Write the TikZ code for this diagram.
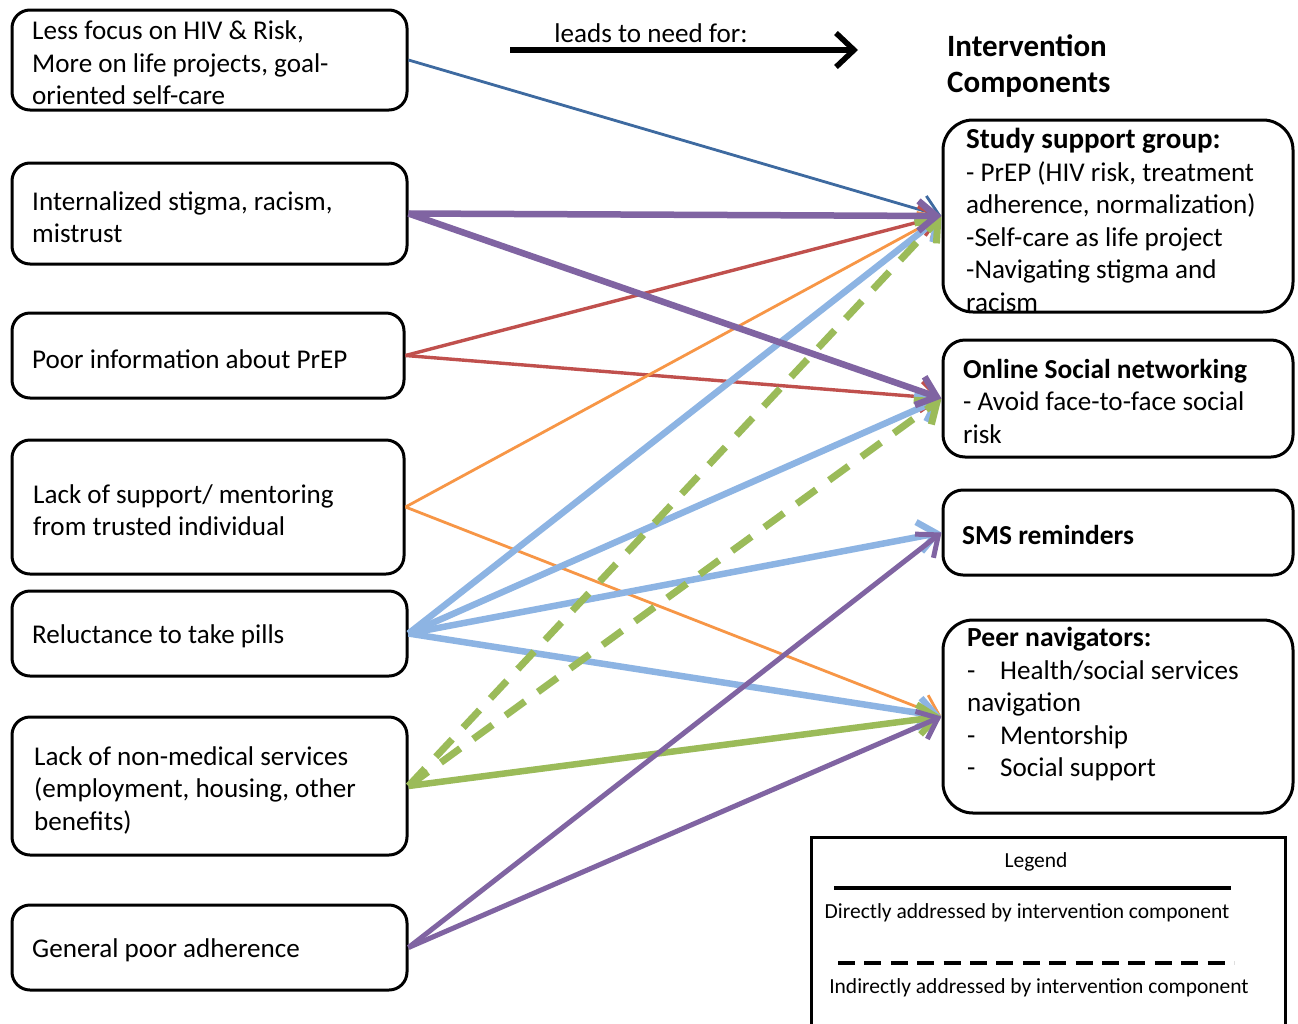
\documentclass[tikz,border=0pt]{standalone}
\usepackage{fontspec}
\setmainfont{Carlito}
\usetikzlibrary{arrows.meta}
\definecolor{cdblue}{RGB}{62,106,160}
\definecolor{cpurple}{RGB}{128,100,162}
\definecolor{cred}{RGB}{192,80,77}
\definecolor{corange}{RGB}{247,150,70}
\definecolor{clblue}{RGB}{141,180,227}
\definecolor{cgreen}{RGB}{155,187,89}
\begin{document}
\begin{tikzpicture}[x=1pt,y=-1pt,
  box/.style={draw=black, line width=3pt, rounded corners=18pt, inner sep=0pt},
  rbox/.style={box, rounded corners=30pt},
  txt/.style={anchor=west, align=left, inner sep=0pt, font=\fontsize{27.1}{32.5}\selectfont},
  legtxt/.style={inner sep=0pt, font=\fontsize{21.5}{26}\selectfont},
  conn/.style={-{Straight Barb[length=18pt,width=30pt]}},
  thin/.style={line width=2.8pt},
  mid/.style={line width=3.4pt},
  thick/.style={line width=6.5pt},
  indirect/.style={line width=7pt, dash pattern=on 24pt off 16pt}
]
\useasboundingbox (0,0) rectangle (1298,1023);
\fill[white] (0,0) rectangle (1298,1023);

% header
\node[inner sep=0pt, font=\fontsize{27.1}{32.5}\selectfont] (lead) at (651,33) {leads to need for:};
\coordinate (hs) at (510,50);
\coordinate (he) at (858,50);
\draw[line width=5.5pt, -{Straight Barb[length=18pt,width=34pt]}] (hs) -- (he);
\node[txt, font=\fontsize{31}{36}\selectfont\bfseries] (title) at (947,66) {Intervention\\Components};

% left boxes
\node[box, minimum width=395pt, minimum height=100pt] (A) at (209.5,60) {};
\node[box, minimum width=395pt, minimum height=101pt] (B) at (209.5,213.5) {};
\node[box, minimum width=392pt, minimum height=85pt] (C) at (208,355.5) {};
\node[box, minimum width=392pt, minimum height=134pt] (D) at (208,507) {};
\node[box, minimum width=395pt, minimum height=85pt] (E) at (209.5,633.5) {};
\node[box, minimum width=395pt, minimum height=138pt] (F) at (209.5,786) {};
\node[box, minimum width=395pt, minimum height=85pt] (G) at (209.5,947.5) {};

\node[txt] (At) at (32,63) {Less focus on HIV \& Risk,\\More on life projects, goal-\\oriented self-care};
\node[txt] (Bt) at (32,217) {Internalized stigma, racism,\\mistrust};
\node[txt] (Ct) at (32,359) {Poor information about PrEP};
\node[txt] (Dt) at (33,510) {Lack of support/ mentoring\\from trusted individual};
\node[txt] (Et) at (32,636) {Reluctance to take pills};
\node[txt] (Ft) at (34,790) {Lack of non-medical services\\(employment, housing, other\\benefits)};
\node[txt] (Gt) at (32,950) {General poor adherence};

% right boxes
\node[rbox, minimum width=350pt, minimum height=192pt] (R1) at (1118,216) {};
\node[box, rounded corners=22pt, minimum width=350pt, minimum height=117pt] (R2) at (1118,398.5) {};
\node[box, rounded corners=20pt, minimum width=350pt, minimum height=85pt] (R3) at (1118,532.5) {};
\node[rbox, minimum width=350pt, minimum height=193pt] (R4) at (1118,716.5) {};

\node[txt] (R1t) at (966,220) {{\fontsize{29}{32.5}\selectfont\bfseries Study support group:}\\- PrEP (HIV risk, treatment\\adherence, normalization)\\-Self-care as life project\\-Navigating stigma and\\racism};
\node[txt] (R2t) at (963,401) {{\fontsize{27.4}{32.5}\selectfont\bfseries Online Social networking}\\- Avoid face-to-face social\\risk};
\node[txt] (R3t) at (962,535) {{\fontsize{27.4}{32.5}\selectfont\bfseries SMS reminders}};
\node[txt] (R4t) at (967,704) {{\fontsize{27.6}{32.5}\selectfont\bfseries Peer navigators:}\\\makebox[33pt][l]{-}Health/social services\\navigation\\\makebox[33pt][l]{-}Mentorship\\\makebox[33pt][l]{-}Social support};

% connectors
\draw[conn, thin, cdblue] (A.east) -- (R1.west);
\draw[conn, mid, cred] (C.east) -- (R1.west);
\draw[conn, mid, cred] (C.east) -- (R2.west);
\draw[conn, thin, corange] (D.east) -- (R1.west);
\draw[conn, thin, corange] (D.east) -- (R4.west);
\draw[conn, thick, clblue] (E.east) -- (R1.west);
\draw[conn, thick, clblue] (E.east) -- (R2.west);
\draw[conn, thick, clblue] (E.east) -- (R3.west);
\draw[conn, thick, clblue] (E.east) -- (R4.west);
\draw[conn, indirect, cgreen] (F.east) -- (R1.west);
\draw[conn, indirect, cgreen] (F.east) -- (R2.west);
\draw[conn, thick, cgreen] (F.east) -- (R4.west);
\draw[conn, thick, cpurple] (B.east) -- (R1.west);
\draw[conn, thick, cpurple] (B.east) -- (R2.west);
\draw[conn, line width=5pt, cpurple] (G.east) -- (R3.west);
\draw[conn, line width=5pt, cpurple] (G.east) -- (R4.west);

% legend
\node[draw=black, line width=3pt, inner sep=0pt, minimum width=474pt, minimum height=210pt] (L) at (1048,942) {};
\node[legtxt] (Lt) at (1036,862) {Legend};
\coordinate (l1s) at (834,888);
\coordinate (l1e) at (1231,888);
\draw[line width=4.5pt] (l1s) -- (l1e);
\node[legtxt] (Ld) at (1027,913) {Directly addressed by intervention component};
\coordinate (l2s) at (838,963);
\coordinate (l2e) at (1234,963);
\draw[line width=4.5pt, dash pattern=on 17pt off 9.4pt] (l2s) -- (l2e);
\node[legtxt] (Li) at (1039,988) {Indirectly addressed by intervention component};
\end{tikzpicture}
\end{document}
